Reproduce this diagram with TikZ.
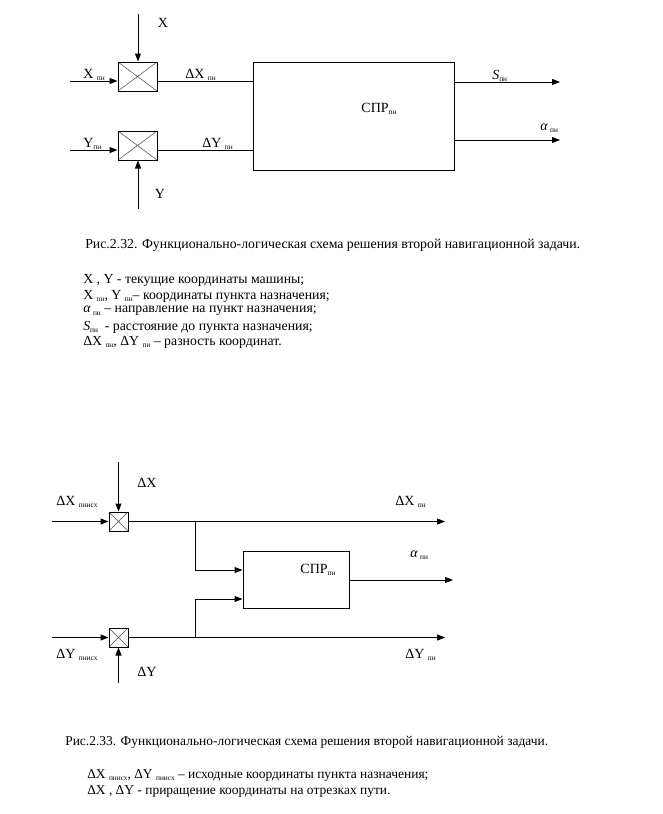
\documentclass[tikz,border=0pt]{standalone}
\usepackage{fontspec}
\setmainfont{Liberation Serif}
\usetikzlibrary{arrows.meta}
\newcommand\lsub[1]{\raisebox{-0.4ex}{\fontsize{5.5}{6}\selectfont #1}}
\newcommand\ital[1]{\textit{#1}}
\tikzset{
  base/.style={line width=0.75pt},
  mult/.style={draw, line width=0.75pt, inner sep=0pt,
    path picture={\draw[line width=0.4pt, black!70]
      (path picture bounding box.north west) -- (path picture bounding box.south east)
      (path picture bounding box.north east) -- (path picture bounding box.south west);}},
  blk/.style={draw, line width=0.75pt, inner sep=0pt},
  arr/.style={line width=0.75pt, -{Triangle[length=6pt,width=4.5pt]}},
  lbl/.style={font=\fontsize{10.5}{12}\selectfont, inner sep=0pt},
  txt/.style={font=\fontsize{10.35}{12}\selectfont, inner sep=0pt, anchor=west},
  txtb/.style={font=\fontsize{10.1}{12}\selectfont, inner sep=0pt, anchor=west}
}
\begin{document}
\begin{tikzpicture}[x=0.75pt,y=-0.75pt]
\useasboundingbox (0,0) rectangle (662,814);
% ---------- Fig 2.32 ----------
\node[mult, minimum width=29.25pt, minimum height=21.75pt] (m1) at (137.5,76.5) {};
\node[mult, minimum width=29.25pt, minimum height=21.75pt] (m2) at (137.5,145.5) {};
\node[blk, minimum width=150.75pt, minimum height=81pt] (spr) at (353.5,116) {};
\coordinate (xt) at (138,14);
\coordinate (yb) at (138,209);
\coordinate (xin) at (70,81);
\coordinate (yin) at (70,150);
\coordinate (sout) at (560,82);
\coordinate (aout) at (560,140);
\draw[arr] (xt) -- (xt |- m1.north);
\draw[arr] (yb) -- (yb |- m2.south);
\draw[arr] (xin) -- (xin -| m1.west);
\draw[arr] (yin) -- (yin -| m2.west);
\draw[base] (xin -| m1.east) -- (xin -| spr.west);
\draw[base] (yin -| m2.east) -- (yin -| spr.west);
\draw[arr] (sout -| spr.east) -- (sout);
\draw[arr] (aout -| spr.east) -- (aout);
\node[lbl] (lx) at (163,23) {X};
\node[lbl] (ly) at (160,194) {Y};
\node[lbl, anchor=west] (lxpn) at (83,75) {X \lsub{пн}};
\node[lbl, anchor=west] (lypn) at (83,144) {Y\lsub{пн}};
\node[lbl, anchor=west] (ldx) at (185,75) {ΔX \lsub{пн}};
\node[lbl, anchor=west] (ldy) at (202,144) {ΔY \lsub{пн}};
\node[lbl] (lspr) at (379,109) {СПР\lsub{пн}};
\node[lbl, anchor=west] (ls) at (492,76) {\ital{S}\lsub{пн}};
\node[lbl, anchor=west] (la) at (540,128) {\ital{α}\,\lsub{пн}};
% caption 1
\node[txt] (cap1) at (85,245) {Рис.2.32. Функционально-логическая схема решения второй навигационной задачи.};
\node[txt] (l1) at (83,280) {X , Y - текущие координаты машины;};
\node[txt] (l2) at (83,296) {X \lsub{пн}, Y \lsub{пн}– координаты пункта назначения;};
\node[txt] (l3) at (83,311) {\ital{α}\,\lsub{пн} – направление на пункт назначения;};
\node[txt] (l4) at (83,327) {\ital{S}\lsub{пн}\ \ - расстояние до пункта назначения;};
\node[txt] (l5) at (83,342) {ΔX \lsub{пн}, ΔY \lsub{пн} – разность координат.};
% ---------- Fig 2.33 ----------
\node[mult, minimum width=14.25pt, minimum height=14.25pt] (m3) at (118.5,521.5) {};
\node[mult, minimum width=14.25pt, minimum height=14.25pt] (m4) at (118.5,637.5) {};
\node[blk, minimum width=79.5pt, minimum height=42.75pt] (spr2) at (296,579.5) {};
\coordinate (dxt) at (118.5,462);
\coordinate (dyb) at (118.5,683);
\coordinate (dxin) at (52,521.5);
\coordinate (dyin) at (52,637.5);
\coordinate (dxout) at (445,521.5);
\coordinate (dyout) at (445,637.5);
\coordinate (j1) at (195,521.5);
\coordinate (j2) at (195,637.5);
\coordinate (b1) at (195,570);
\coordinate (b2) at (195,599);
\coordinate (aout2) at (453,580);
\draw[arr] (dxt) -- (m3.north);
\draw[arr] (dyb) -- (m4.south);
\draw[arr] (dxin) -- (m3.west);
\draw[arr] (dyin) -- (m4.west);
\draw[arr] (m3.east) -- (dxout);
\draw[arr] (m4.east) -- (dyout);
\draw[arr] (j1) -- (b1) -- (b1 -| spr2.west);
\draw[arr] (j2) -- (b2) -- (b2 -| spr2.west);
\draw[arr] (aout2 -| spr2.east) -- (aout2);
\node[lbl] (ldx2) at (147,483) {ΔX};
\node[lbl] (ldy2) at (147,672) {ΔY};
\node[lbl, anchor=west] (ldxi) at (56,502) {ΔX \lsub{пнисх}};
\node[lbl, anchor=west] (ldyi) at (56,655) {ΔY \lsub{пнисх}};
\node[lbl, anchor=west] (ldxo) at (395,502) {ΔX \lsub{пн}};
\node[lbl, anchor=west] (ldyo) at (405,655) {ΔY \lsub{пн}};
\node[lbl, anchor=west] (la2) at (410,555) {\ital{α}\,\lsub{пн}};
\node[lbl] (lspr2) at (318,570) {СПР\lsub{пн}};
% caption 2
\node[txtb] (cap2) at (65,742) {Рис.2.33. Функционально-логическая схема решения второй навигационной задачи.};
\node[txtb] (l6) at (87,775) {ΔX \lsub{пнисх}, ΔY \lsub{пнисх} – исходные координаты пункта назначения;};
\node[txtb] (l7) at (87,791) {ΔX , ΔY - приращение координаты на отрезках пути.};
\end{tikzpicture}
\end{document}
